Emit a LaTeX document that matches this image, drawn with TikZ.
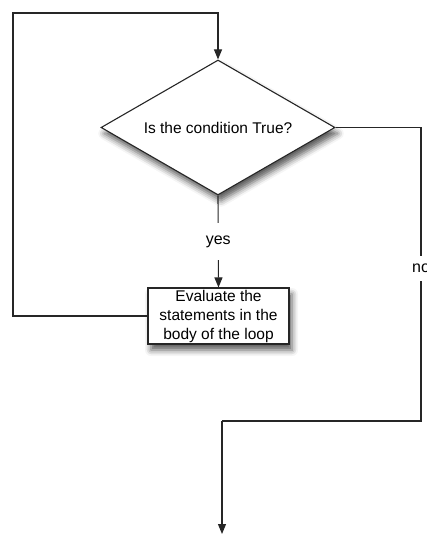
\documentclass[tikz,border=0pt]{standalone}
\usepackage{fontspec}
\setmainfont{Liberation Sans}
\usetikzlibrary{shapes.geometric,arrows.meta,shadows.blur}
\begin{document}
\begin{tikzpicture}[x=1pt,y=-1pt,
  line/.style={line width=1.1pt,draw=black!85},
  arr/.style={line, -{Triangle[width=8pt,length=10pt]}},
  dshadow/.style={blur shadow={shadow xshift=3pt,shadow yshift=-6pt,shadow blur radius=6pt,shadow opacity=65}},
  decision/.style={diamond,draw=black!85,line width=1.1pt,fill=white,inner sep=0pt,aspect=1.73,minimum width=234pt,minimum height=135pt,font=\fontsize{15.5}{18}\selectfont,dshadow},
  process/.style={rectangle,draw=black!85,line width=1.1pt,fill=white,minimum width=141pt,minimum height=56pt,inner sep=1pt,align=center,font=\fontsize{15.5}{19}\selectfont,dshadow},
  lbl/.style={fill=white,font=\fontsize{16}{18}\selectfont,inner xsep=2pt,inner ysep=13pt}]
\useasboundingbox (0,0) rectangle (426,534);
\node[decision] (d) at (218,127.5) {Is the condition True?};
\node[process] (b) at (218.5,316) {Evaluate the\\statements in the\\body of the loop};
\coordinate (end) at (222,534);
% loop back
\draw[arr] (b.west) -- (13,316) -- (13,13) -- (218,13) -- (d.north);
% yes
\draw[arr] (d.south) -- node[lbl] (yes) {yes} (b.north);
% no
\draw[line] (d.east) -- (421,127.5) -- node[lbl,inner ysep=8pt,pos=0.48] (no) {no} (421,421) -- (222,421);
\draw[arr] (222,421) -- (end);
\end{tikzpicture}
\end{document}
